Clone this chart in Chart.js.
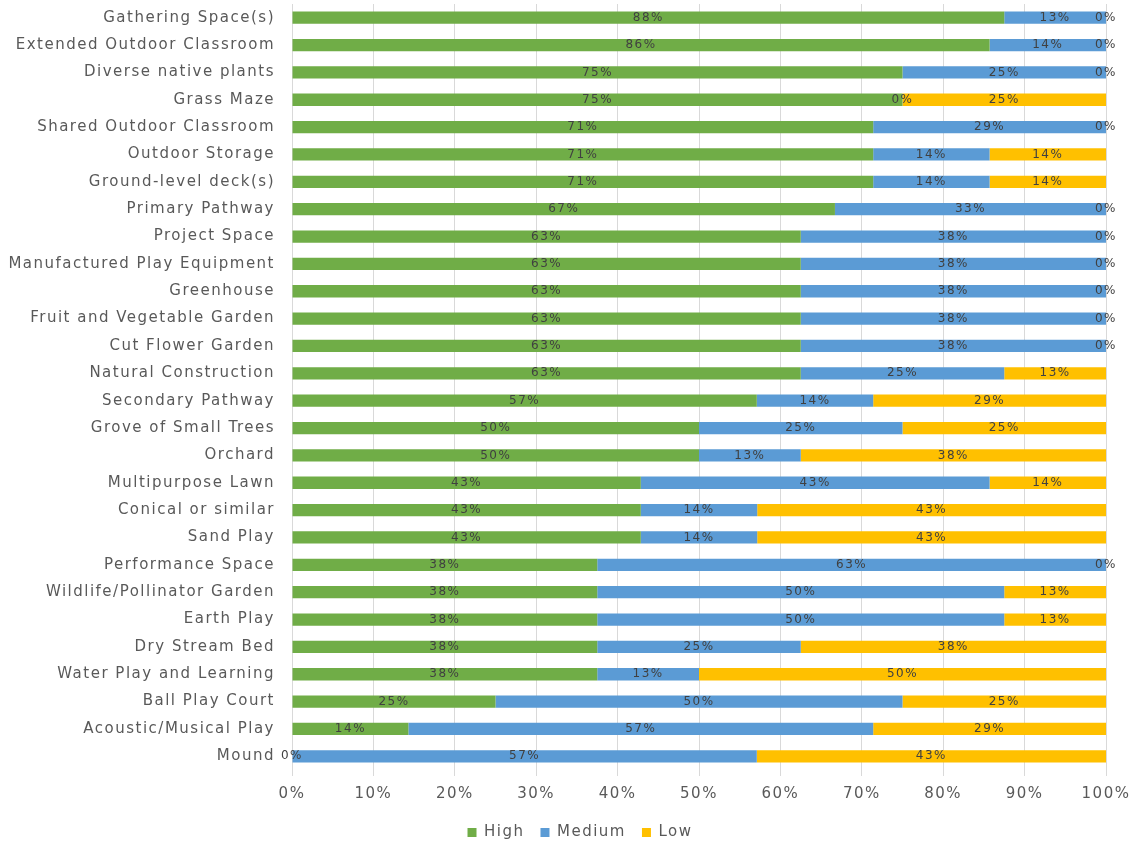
<!DOCTYPE html>
<html>
<head>
<meta charset="utf-8">
<script src="https://cdn.jsdelivr.net/npm/chart.js@4.4.1/dist/chart.umd.min.js"></script>
<style>
  html, body { margin: 0; padding: 0; background: #fff; }
  #wrap { width: 1134px; height: 844px; position: relative; }
</style>
</head>
<body>
<div id="wrap"><canvas id="chart"></canvas></div>
<script>
// survey items, top to bottom
const categories = [
    'Gathering Space(s)', 'Extended Outdoor Classroom', 'Diverse native plants', 'Grass Maze',
    'Shared Outdoor Classroom', 'Outdoor Storage', 'Ground-level deck(s)', 'Primary Pathway',
    'Project Space', 'Manufactured Play Equipment', 'Greenhouse', 'Fruit and Vegetable Garden',
    'Cut Flower Garden', 'Natural Construction', 'Secondary Pathway', 'Grove of Small Trees',
    'Orchard', 'Multipurpose Lawn', 'Conical or similar', 'Sand Play',
    'Performance Space', 'Wildlife/Pollinator Garden', 'Earth Play', 'Dry Stream Bed',
    'Water Play and Learning', 'Ball Play Court', 'Acoustic/Musical Play', 'Mound'
];

// share of responses (%) per priority
const high = [87.5, 85.7, 75, 75, 71.4, 71.4, 71.4, 66.7, 62.5, 62.5, 62.5, 62.5, 62.5, 62.5,
    57.1, 50, 50, 42.85, 42.85, 42.85, 37.5, 37.5, 37.5, 37.5, 37.5, 25, 14.3, 0];
const medium = [12.5, 14.3, 25, 0, 28.6, 14.3, 14.3, 33.3, 37.5, 37.5, 37.5, 37.5, 37.5, 25,
    14.3, 25, 12.5, 42.85, 14.3, 14.3, 62.5, 50, 50, 25, 12.5, 50, 57.1, 57.1];
const low = [0, 0, 0, 25, 0, 14.3, 14.3, 0, 0, 0, 0, 0, 0, 12.5,
    28.6, 25, 37.5, 14.3, 42.85, 42.85, 0, 12.5, 12.5, 37.5, 50, 25, 28.6, 42.9];

const xTicks = [0, 10, 20, 30, 40, 50, 60, 70, 80, 90, 100];

const FONT = '"DejaVu Sans", sans-serif';

// wider tracking for all canvas text
const spacing = {
    id: 'spacing',
    beforeUpdate: function (chart) { chart.ctx.letterSpacing = '1.5px'; },
    beforeDraw: function (chart) { chart.ctx.letterSpacing = '1.5px'; },
};

// push the legend a bit to the right of the canvas centre
const legendShift = {
    id: 'legendShift',
    afterLayout: function (chart) {
        chart.legend.left += 27;
        chart.legend.right += 27;
    }
};

// percentage in the middle of every segment, zero ones included
const valueLabels = {
    id: 'valueLabels',
    afterDatasetsDraw: function (chart) {
        var ctx = chart.ctx;
        ctx.save();
        ctx.font = '12px ' + FONT;
        ctx.fillStyle = '#404040';
        ctx.textAlign = 'center';
        ctx.textBaseline = 'middle';
        chart.data.datasets.forEach(function (ds, i) {
            chart.getDatasetMeta(i).data.forEach(function (bar, j) {
                ctx.fillText(Math.round(ds.data[j]) + '%', (bar.x + bar.base) / 2, bar.y);
            });
        });
        ctx.restore();
    }
};

new Chart(document.getElementById('chart'), {
    type: 'bar',
    data: {
        labels: categories,
        datasets: [
            { label: 'High', data: high, backgroundColor: '#70AD47' },
            { label: 'Medium', data: medium, backgroundColor: '#5B9BD5' },
            { label: 'Low', data: low, backgroundColor: '#FFC000' },
        ]
    },
    options: {
        indexAxis: 'y',
        responsive: true,
        maintainAspectRatio: false,
        animation: false,
        datasets: { bar: { barPercentage: 0.45, categoryPercentage: 1 } },
        layout: { padding: { top: 4, right: 28, left: 0, bottom: -6 } },
        scales: {
            x: {
                stacked: true,
                min: 0,
                max: 100,
                afterBuildTicks: function (scale) {
                    scale.ticks = xTicks.map(function (v) { return { value: v }; });
                },
                afterFit: function (scale) {
                    scale.height = 39;
                    scale.paddingLeft = 0;
                    scale.paddingRight = 0;
                },
                ticks: {
                    callback: function (v) { return v + '%'; },
                    color: '#595959',
                    font: { family: FONT, size: 15 },
                    padding: 9,
                },
                grid: { color: '#d9d9d9', tickLength: 6, tickColor: '#d9d9d9' },
                border: { display: false },
            },
            y: {
                stacked: true,
                afterFit: function (scale) {
                    scale.width = 292;
                    scale.paddingTop = 0;
                    scale.paddingBottom = 0;
                },
                ticks: {
                    color: '#595959',
                    font: { family: FONT, size: 15 },
                    padding: 17,
                    autoSkip: false,
                },
                grid: { display: false, drawTicks: false },
                border: { display: false },
            }
        },
        plugins: {
            legend: {
                position: 'bottom',
                labels: {
                    boxWidth: 9,
                    boxHeight: 9,
                    color: '#595959',
                    font: { family: FONT, size: 15 },
                    padding: 16,
                }
            },
            tooltip: { enabled: false },
        }
    },
    plugins: [spacing, legendShift, valueLabels]
});
</script>
</body>
</html>
